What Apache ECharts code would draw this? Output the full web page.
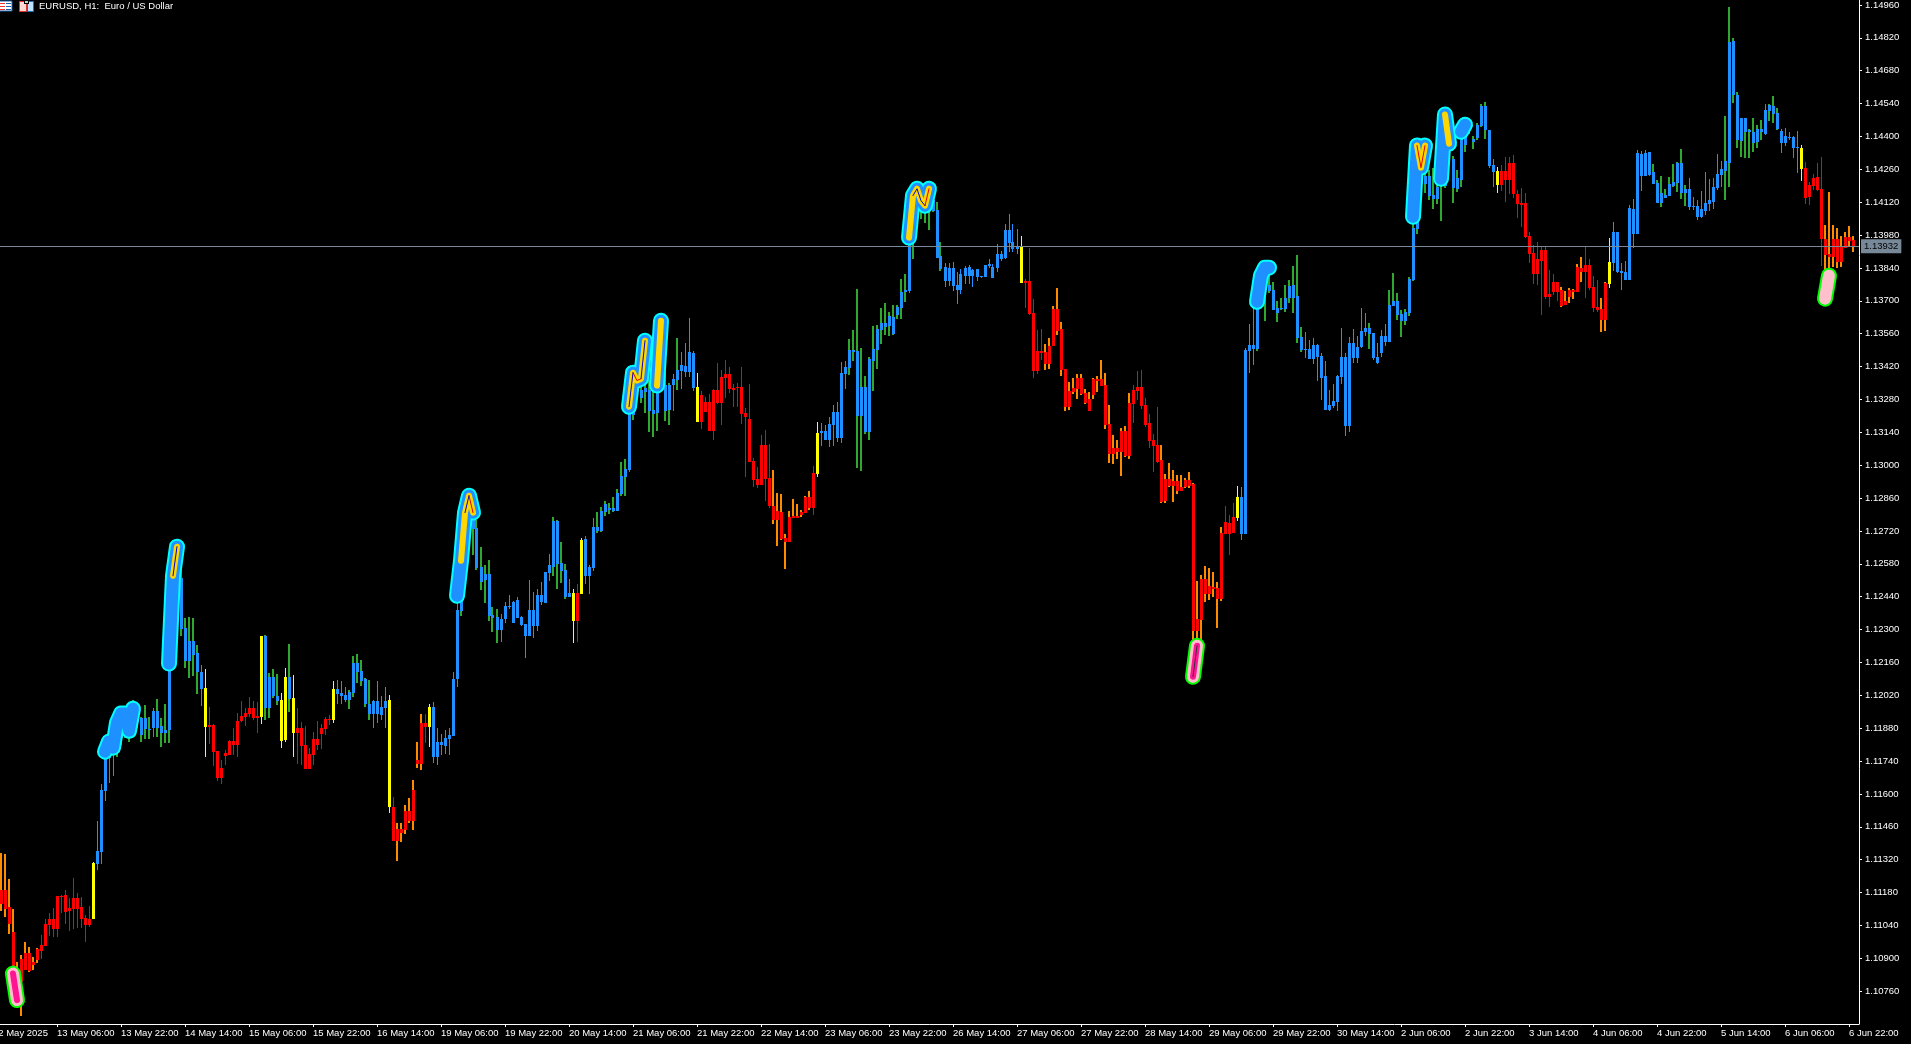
<!DOCTYPE html>
<html>
<head>
<meta charset="utf-8">
<style>html,body{margin:0;padding:0;background:#000;}#c{width:1911px;height:1044px;}</style>
<script src="https://cdn.jsdelivr.net/npm/echarts@6/dist/echarts.min.js"></script>
</head>
<body>
<div id="c"></div>
<script>
const chartTitle = 'EURUSD, H1:  Euro / US Dollar';
const lastPrice = 1.13932;
const priceTicks = [1.10760,1.10900,1.11040,1.11180,1.11320,1.11460,1.11600,1.11740,1.11880,1.12020,1.12160,1.12300,1.12440,1.12580,1.12720,1.12860,1.13000,1.13140,1.13280,1.13420,1.13560,1.13700,1.13840,1.13980,1.14120,1.14260,1.14400,1.14540,1.14680,1.14820,1.14960];
const timeLabels = ['12 May 2025','13 May 06:00','13 May 22:00','14 May 14:00','15 May 06:00','15 May 22:00','16 May 14:00','19 May 06:00','19 May 22:00','20 May 14:00','21 May 06:00','21 May 22:00','22 May 14:00','23 May 06:00','23 May 22:00','26 May 14:00','27 May 06:00','27 May 22:00','28 May 14:00','29 May 06:00','29 May 22:00','30 May 14:00','2 Jun 06:00','2 Jun 22:00','3 Jun 14:00','4 Jun 06:00','4 Jun 22:00','5 Jun 14:00','6 Jun 06:00','6 Jun 22:00'];
// Candle state per run: O red/orange wick, R red, Y yellow, B blue, G blue/green wick
const stateRuns = 'O10 R13 Y1 B5 G9 B1 G11 B1 Y1 R13 Y1 G4 Y2 G1 Y1 R9 Y1 B3 G6 B4 Y1 R1 O7 R1 Y1 B7 G10 B13 G4 B1 Y1 R1 Y1 B3 G8 B1 G10 B1 G1 B4 Y1 R18 O10 R1 Y1 B7 G15 B1 G8 B19 Y1 R5 O22 R7 O16 R3 Y1 B4 G12 B16 G1 B4 G25 B2 Y1 R15 O6 R4 O2 Y1 B10 G9 B9 G10 B1 G3 B5 Y1 R5 O8';
const highs = [
1.11346,1.11341,1.11235,1.11107,1.10881,1.10911,1.10967,1.10945,1.10903,1.10941,1.10996,1.11065,1.11090,1.11111,1.11163,1.11167,1.11188,1.11154,1.11239,1.11175,
1.11158,1.11082,1.11120,1.11307,1.11482,1.11639,1.11806,1.11827,1.11835,1.11891,1.11946,1.11963,1.11955,1.11997,1.11976,1.11925,1.11976,1.11925,1.11963,1.12001,
1.11920,1.11980,1.12295,1.12551,1.12678,1.12551,1.12346,1.12351,1.12346,1.12231,1.12146,1.12129,1.11967,1.11895,1.11780,1.11742,1.11784,1.11827,1.11878,1.11942,
1.11993,1.11963,1.12010,1.11993,1.11989,1.12270,1.12274,1.12112,1.12129,1.12108,1.12027,1.12133,1.12236,1.12104,1.11963,1.11903,1.11886,1.11793,1.11861,1.11908,
1.11895,1.11925,1.11933,1.12078,1.12082,1.12078,1.12052,1.12040,1.12184,1.12193,1.12167,1.12091,1.12082,1.11997,1.12078,1.12014,1.12052,1.12018,1.11584,1.11473,
1.11473,1.11550,1.11580,1.11656,1.11818,1.11938,1.11938,1.11980,1.11989,1.11878,1.11852,1.11869,1.11878,1.12116,1.12410,1.12615,1.12828,1.12891,1.12849,1.12764,
1.12649,1.12572,1.12593,1.12393,1.12385,1.12363,1.12414,1.12444,1.12419,1.12436,1.12355,1.12321,1.12508,1.12457,1.12470,1.12500,1.12542,1.12619,1.12776,1.12764,
1.12670,1.12576,1.12512,1.12470,1.12491,1.12687,1.12695,1.12572,1.12772,1.12798,1.12819,1.12845,1.12836,1.12862,1.12896,1.13011,1.13023,1.13253,1.13381,1.13402,
1.13402,1.13488,1.13360,1.13339,1.13381,1.13624,1.13394,1.13347,1.13385,1.13539,1.13479,1.13517,1.13624,1.13483,1.13390,1.13313,1.13287,1.13300,1.13321,1.13432,
1.13402,1.13445,1.13415,1.13343,1.13347,1.13415,1.13241,1.13343,1.13028,1.12989,1.13126,1.13147,1.13087,1.12977,1.12879,1.12874,1.12704,1.12802,1.12853,1.12832,
1.12806,1.12866,1.12887,1.12994,1.13181,1.13177,1.13168,1.13202,1.13253,1.13266,1.13436,1.13441,1.13534,1.13573,1.13747,1.13496,1.13377,1.13458,1.13590,1.13594,
1.13666,1.13688,1.13649,1.13679,1.13679,1.13790,1.13811,1.13999,1.14169,1.14177,1.14169,1.14169,1.14190,1.14169,1.14118,1.13947,1.13858,1.13858,1.13862,1.13820,
1.13832,1.13845,1.13850,1.13832,1.13832,1.13803,1.13850,1.13875,1.13854,1.13939,1.13909,1.14024,1.14067,1.14024,1.14003,1.13973,1.13790,1.13922,1.13705,1.13573,
1.13577,1.13513,1.13539,1.13675,1.13752,1.13607,1.13407,1.13351,1.13368,1.13385,1.13385,1.13321,1.13309,1.13368,1.13377,1.13445,1.13390,1.13253,1.13126,1.13104,
1.13155,1.13164,1.13304,1.13339,1.13398,1.13402,1.13283,1.13215,1.13130,1.13245,1.13083,1.12960,1.13006,1.12977,1.12955,1.12955,1.12942,1.12968,1.12921,1.12504,
1.12529,1.12568,1.12559,1.12542,1.12500,1.12734,1.12823,1.12785,1.12836,1.12908,1.12904,1.13496,1.13598,1.13679,1.13700,1.13807,1.13862,1.13828,1.13777,1.13696,
1.13709,1.13764,1.13786,1.13845,1.13892,1.13586,1.13564,1.13530,1.13539,1.13513,1.13475,1.13441,1.13317,1.13343,1.13381,1.13581,1.13475,1.13543,1.13577,1.13547,
1.13666,1.13645,1.13603,1.13560,1.13517,1.13573,1.13598,1.13743,1.13815,1.13730,1.13658,1.13662,1.13798,1.14062,1.14382,1.14382,1.14361,1.14254,1.14263,1.14211,
1.14339,1.14501,1.14467,1.14314,1.14254,1.14446,1.14476,1.14476,1.14399,1.14454,1.14535,1.14544,1.14424,1.14301,1.14267,1.14275,1.14309,1.14309,1.14318,1.14169,
1.14177,1.14156,1.13990,1.13935,1.13947,1.13926,1.13926,1.13828,1.13811,1.13777,1.13756,1.13739,1.13752,1.13747,1.13854,1.13884,1.13930,1.13875,1.13803,1.13786,
1.13709,1.13777,1.13964,1.14033,1.13990,1.13858,1.13867,1.14105,1.14131,1.14339,1.14335,1.14339,1.14331,1.14280,1.14211,1.14229,1.14173,1.14224,1.14280,1.14288,
1.14344,1.14190,1.14220,1.14139,1.14126,1.14165,1.14246,1.14216,1.14220,1.14322,1.14292,1.14484,1.14948,1.14816,1.14586,1.14476,1.14476,1.14429,1.14476,1.14446,
1.14467,1.14535,1.14535,1.14569,1.14518,1.14429,1.14433,1.14416,1.14399,1.14420,1.14361,1.14288,1.14203,1.14237,1.14284,1.14309,1.14020,1.14160,1.14020,1.14007,
1.13973,1.13990,1.14016,1.13973];
const bodyTops = [
1.11188,1.11188,1.11116,1.11009,1.10839,1.10894,1.10920,1.10920,1.10881,1.10937,1.10954,1.11043,1.11065,1.11065,1.11163,1.11163,1.11167,1.11111,1.11154,1.11154,
1.11116,1.11069,1.11065,1.11303,1.11354,1.11614,1.11776,1.11793,1.11806,1.11848,1.11920,1.11933,1.11903,1.11976,1.11955,1.11920,1.11920,1.11874,1.11950,1.11950,
1.11886,1.11869,1.12253,1.12529,1.12657,1.12517,1.12304,1.12248,1.12248,1.12197,1.12116,1.12048,1.11891,1.11891,1.11780,1.11708,1.11771,1.11823,1.11823,1.11908,
1.11929,1.11942,1.11963,1.11963,1.11929,1.12270,1.12270,1.12095,1.12095,1.12014,1.11997,1.12095,1.12095,1.12006,1.11878,1.11878,1.11806,1.11767,1.11831,1.11831,
1.11878,1.11916,1.11916,1.12044,1.12044,1.12027,1.12018,1.12031,1.12155,1.12155,1.12121,1.12087,1.11980,1.11993,1.11993,1.11967,1.11993,1.11997,1.11542,1.11448,
1.11448,1.11524,1.11524,1.11614,1.11742,1.11899,1.11899,1.11967,1.11967,1.11818,1.11818,1.11835,1.11848,1.12087,1.12380,1.12572,1.12806,1.12862,1.12828,1.12730,
1.12564,1.12534,1.12534,1.12359,1.12351,1.12342,1.12397,1.12397,1.12414,1.12423,1.12351,1.12321,1.12380,1.12380,1.12444,1.12444,1.12542,1.12572,1.12759,1.12759,
1.12581,1.12551,1.12453,1.12453,1.12453,1.12678,1.12683,1.12564,1.12734,1.12734,1.12802,1.12832,1.12815,1.12815,1.12879,1.12951,1.12981,1.13219,1.13360,1.13381,
1.13317,1.13326,1.13317,1.13232,1.13309,1.13594,1.13339,1.13339,1.13364,1.13402,1.13424,1.13419,1.13479,1.13475,1.13330,1.13296,1.13266,1.13266,1.13317,1.13317,
1.13373,1.13385,1.13385,1.13326,1.13330,1.13330,1.13219,1.13194,1.13015,1.12938,1.13083,1.13083,1.12942,1.12823,1.12802,1.12798,1.12687,1.12776,1.12781,1.12781,
1.12798,1.12862,1.12862,1.12964,1.13134,1.13143,1.13143,1.13172,1.13224,1.13224,1.13390,1.13415,1.13488,1.13488,1.13483,1.13330,1.13330,1.13449,1.13492,1.13577,
1.13603,1.13603,1.13632,1.13628,1.13671,1.13735,1.13743,1.13977,1.14126,1.14148,1.14126,1.14148,1.14156,1.14126,1.14084,1.13888,1.13841,1.13837,1.13837,1.13764,
1.13811,1.13837,1.13841,1.13828,1.13832,1.13803,1.13850,1.13854,1.13841,1.13896,1.13896,1.13999,1.13999,1.13947,1.13930,1.13930,1.13781,1.13781,1.13645,1.13483,
1.13483,1.13479,1.13505,1.13662,1.13662,1.13577,1.13407,1.13313,1.13326,1.13368,1.13368,1.13304,1.13279,1.13364,1.13364,1.13364,1.13339,1.13172,1.13070,1.13070,
1.13143,1.13143,1.13262,1.13317,1.13330,1.13330,1.13253,1.13177,1.13104,1.13083,1.13019,1.12938,1.12938,1.12930,1.12930,1.12904,1.12934,1.12934,1.12917,1.12342,
1.12512,1.12512,1.12483,1.12478,1.12474,1.12708,1.12755,1.12751,1.12776,1.12862,1.12862,1.13488,1.13509,1.13509,1.13679,1.13764,1.13807,1.13764,1.13743,1.13666,
1.13666,1.13709,1.13760,1.13764,1.13718,1.13543,1.13492,1.13492,1.13509,1.13509,1.13462,1.13377,1.13253,1.13270,1.13377,1.13458,1.13458,1.13517,1.13517,1.13500,
1.13568,1.13581,1.13581,1.13560,1.13458,1.13547,1.13547,1.13679,1.13696,1.13696,1.13641,1.13649,1.13790,1.14007,1.14339,1.14339,1.14229,1.14229,1.14148,1.14182,
1.14275,1.14446,1.14446,1.14301,1.14220,1.14395,1.14446,1.14454,1.14386,1.14446,1.14527,1.14527,1.14424,1.14275,1.14250,1.14250,1.14250,1.14284,1.14284,1.14152,
1.14114,1.14114,1.13973,1.13901,1.13875,1.13913,1.13913,1.13726,1.13777,1.13777,1.13743,1.13696,1.13743,1.13743,1.13841,1.13837,1.13850,1.13850,1.13756,1.13671,
1.13662,1.13773,1.13862,1.13990,1.13990,1.13824,1.13820,1.14092,1.14088,1.14326,1.14322,1.14326,1.14331,1.14246,1.14199,1.14156,1.14148,1.14194,1.14203,1.14284,
1.14284,1.14173,1.14173,1.14101,1.14101,1.14088,1.14114,1.14126,1.14182,1.14237,1.14258,1.14292,1.14799,1.14803,1.14573,1.14476,1.14476,1.14424,1.14416,1.14429,
1.14429,1.14510,1.14531,1.14527,1.14497,1.14420,1.14399,1.14395,1.14395,1.14352,1.14348,1.14263,1.14190,1.14220,1.14224,1.14173,1.13960,1.13896,1.13960,1.13960,
1.13926,1.13969,1.13969,1.13956];
const bodyBottoms = [
1.11128,1.11107,1.11043,1.10839,1.10720,1.10796,1.10847,1.10843,1.10869,1.10890,1.10928,1.10950,1.11039,1.11022,1.11022,1.11158,1.11094,1.11099,1.11107,1.11107,
1.11065,1.11039,1.11039,1.11065,1.11299,1.11350,1.11610,1.11750,1.11763,1.11793,1.11835,1.11891,1.11848,1.11903,1.11903,1.11848,1.11874,1.11869,1.11878,1.11878,
1.11857,1.11857,1.11869,1.12253,1.12517,1.12299,1.12163,1.12163,1.12189,1.12116,1.12044,1.11882,1.11882,1.11776,1.11665,1.11665,1.11759,1.11763,1.11806,1.11806,
1.11908,1.11925,1.11938,1.11920,1.11920,1.11925,1.11963,1.11963,1.12014,1.11993,1.11823,1.11827,1.12001,1.11857,1.11857,1.11801,1.11703,1.11703,1.11763,1.11806,
1.11852,1.11874,1.11912,1.11912,1.12023,1.12014,1.11997,1.11997,1.12027,1.12116,1.12078,1.11980,1.11938,1.11938,1.11938,1.11933,1.11963,1.11542,1.11397,1.11397,
1.11431,1.11444,1.11482,1.11482,1.11725,1.11725,1.11882,1.11882,1.11754,1.11754,1.11806,1.11801,1.11831,1.11844,1.12087,1.12376,1.12572,1.12742,1.12725,1.12559,
1.12500,1.12508,1.12355,1.12346,1.12295,1.12295,1.12342,1.12393,1.12325,1.12346,1.12316,1.12270,1.12270,1.12312,1.12312,1.12414,1.12410,1.12538,1.12564,1.12576,
1.12546,1.12436,1.12436,1.12333,1.12333,1.12448,1.12525,1.12525,1.12559,1.12717,1.12717,1.12798,1.12806,1.12802,1.12802,1.12874,1.12947,1.12977,1.13211,1.13360,
1.13283,1.13309,1.13228,1.13215,1.13219,1.13381,1.13228,1.13232,1.13339,1.13360,1.13398,1.13394,1.13394,1.13326,1.13181,1.13181,1.13224,1.13143,1.13143,1.13262,
1.13262,1.13368,1.13321,1.13317,1.13326,1.13215,1.13202,1.13011,1.12934,1.12913,1.12913,1.12938,1.12823,1.12764,1.12764,1.12683,1.12670,1.12670,1.12772,1.12772,
1.12785,1.12793,1.12815,1.12815,1.12960,1.13134,1.13104,1.13104,1.13168,1.13113,1.13113,1.13385,1.13411,1.13479,1.13206,1.13206,1.13138,1.13138,1.13441,1.13488,
1.13573,1.13586,1.13590,1.13556,1.13637,1.13666,1.13735,1.13739,1.13977,1.14105,1.14084,1.14092,1.14126,1.14079,1.13879,1.13832,1.13781,1.13781,1.13760,1.13743,
1.13743,1.13803,1.13803,1.13803,1.13798,1.13798,1.13798,1.13845,1.13794,1.13837,1.13875,1.13879,1.13943,1.13918,1.13918,1.13773,1.13773,1.13641,1.13398,1.13398,
1.13475,1.13428,1.13428,1.13505,1.13568,1.13402,1.13245,1.13245,1.13309,1.13321,1.13300,1.13262,1.13228,1.13296,1.13356,1.13334,1.13168,1.13045,1.13045,1.13053,
1.13053,1.13036,1.13036,1.13258,1.13313,1.13249,1.13168,1.13100,1.13079,1.13011,1.12840,1.12845,1.12908,1.12908,1.12887,1.12887,1.12904,1.12908,1.12291,1.12291,
1.12338,1.12448,1.12448,1.12470,1.12427,1.12427,1.12704,1.12704,1.12708,1.12772,1.12704,1.12704,1.13483,1.13492,1.13492,1.13700,1.13743,1.13739,1.13658,1.13645,
1.13662,1.13662,1.13709,1.13709,1.13539,1.13488,1.13488,1.13449,1.13449,1.13458,1.13368,1.13232,1.13232,1.13249,1.13266,1.13373,1.13164,1.13164,1.13453,1.13453,
1.13500,1.13564,1.13556,1.13453,1.13432,1.13475,1.13522,1.13522,1.13675,1.13637,1.13611,1.13611,1.13645,1.13786,1.14003,1.14233,1.14194,1.14143,1.14131,1.14131,
1.14211,1.14186,1.14339,1.14177,1.14173,1.14211,1.14361,1.14424,1.14373,1.14390,1.14441,1.14424,1.14271,1.14246,1.14190,1.14190,1.14211,1.14211,1.14152,1.14109,
1.14105,1.13969,1.13896,1.13811,1.13811,1.13867,1.13713,1.13713,1.13735,1.13735,1.13675,1.13679,1.13713,1.13735,1.13735,1.13820,1.13820,1.13752,1.13666,1.13658,
1.13615,1.13615,1.13769,1.13858,1.13820,1.13815,1.13786,1.13786,1.13982,1.13982,1.14229,1.14229,1.14233,1.14194,1.14114,1.14114,1.14135,1.14143,1.14186,1.14199,
1.14156,1.14156,1.14097,1.14097,1.14054,1.14054,1.14079,1.14109,1.14118,1.14177,1.14233,1.14250,1.14284,1.14573,1.14382,1.14378,1.14416,1.14416,1.14369,1.14373,
1.14416,1.14407,1.14505,1.14493,1.14429,1.14369,1.14369,1.14390,1.14348,1.14348,1.14258,1.14135,1.14139,1.14186,1.14169,1.13960,1.13892,1.13884,1.13884,1.13862,
1.13862,1.13922,1.13952,1.13926];
const lows = [
1.11099,1.11073,1.11001,1.10826,1.10707,1.10651,1.10847,1.10839,1.10847,1.10877,1.10894,1.10950,1.10992,1.10988,1.10988,1.11090,1.11043,1.11013,1.11022,1.11026,
1.11026,1.10967,1.11030,1.11065,1.11273,1.11299,1.11567,1.11644,1.11673,1.11754,1.11806,1.11835,1.11818,1.11848,1.11878,1.11818,1.11831,1.11831,1.11840,1.11840,
1.11797,1.11814,1.11814,1.12231,1.12487,1.12270,1.12133,1.12091,1.12099,1.12023,1.11972,1.11754,1.11810,1.11716,1.11652,1.11639,1.11720,1.11763,1.11763,1.11754,
1.11903,1.11886,1.11925,1.11912,1.11857,1.11895,1.11912,1.11920,1.12006,1.11976,1.11793,1.11818,1.11946,1.11754,1.11725,1.11720,1.11703,1.11703,1.11720,1.11784,
1.11788,1.11848,1.11891,1.11899,1.11980,1.11980,1.11989,1.11959,1.12010,1.12070,1.12057,1.11967,1.11912,1.11878,1.11899,1.11912,1.11878,1.11516,1.11397,1.11312,
1.11392,1.11427,1.11473,1.11444,1.11708,1.11699,1.11814,1.11797,1.11729,1.11720,1.11763,1.11767,1.11763,1.11844,1.12052,1.12355,1.12551,1.12730,1.12615,1.12551,
1.12466,1.12410,1.12333,1.12287,1.12240,1.12244,1.12325,1.12385,1.12325,1.12346,1.12312,1.12176,1.12270,1.12261,1.12291,1.12402,1.12410,1.12504,1.12525,1.12470,
1.12495,1.12427,1.12436,1.12240,1.12244,1.12448,1.12491,1.12448,1.12546,1.12708,1.12713,1.12781,1.12789,1.12798,1.12802,1.12866,1.12866,1.12968,1.13189,1.13351,
1.13262,1.13219,1.13138,1.13117,1.13143,1.13326,1.13185,1.13168,1.13228,1.13317,1.13321,1.13373,1.13373,1.13313,1.13181,1.13151,1.13224,1.13143,1.13104,1.13258,
1.13168,1.13283,1.13304,1.13245,1.13245,1.13172,1.12947,1.13011,1.12904,1.12900,1.12913,1.12845,1.12815,1.12747,1.12653,1.12678,1.12555,1.12670,1.12772,1.12772,
1.12776,1.12793,1.12806,1.12785,1.12947,1.13079,1.13104,1.13074,1.13079,1.13096,1.13092,1.13321,1.13381,1.13441,1.12985,1.12972,1.13130,1.13104,1.13313,1.13407,
1.13513,1.13551,1.13547,1.13551,1.13620,1.13620,1.13692,1.13730,1.13875,1.14092,1.14045,1.14028,1.13999,1.14075,1.13879,1.13824,1.13756,1.13760,1.13739,1.13683,
1.13726,1.13769,1.13769,1.13756,1.13781,1.13794,1.13798,1.13837,1.13794,1.13820,1.13867,1.13875,1.13905,1.13905,1.13896,1.13773,1.13666,1.13637,1.13368,1.13385,
1.13445,1.13402,1.13407,1.13505,1.13551,1.13377,1.13228,1.13232,1.13300,1.13279,1.13296,1.13258,1.13228,1.13279,1.13309,1.13334,1.13151,1.13006,1.13002,1.13023,
1.12951,1.13032,1.13023,1.13177,1.13275,1.13236,1.13160,1.13070,1.12968,1.13006,1.12836,1.12836,1.12904,1.12840,1.12874,1.12887,1.12900,1.12900,1.12253,1.12253,
1.12253,1.12414,1.12423,1.12436,1.12304,1.12419,1.12704,1.12615,1.12708,1.12759,1.12678,1.12704,1.13390,1.13424,1.13483,1.13679,1.13611,1.13730,1.13658,1.13607,
1.13658,1.13649,1.13688,1.13645,1.13517,1.13479,1.13453,1.13449,1.13428,1.13356,1.13275,1.13232,1.13228,1.13241,1.13228,1.13343,1.13121,1.13138,1.13432,1.13432,
1.13496,1.13547,1.13492,1.13445,1.13428,1.13458,1.13505,1.13522,1.13675,1.13615,1.13543,1.13594,1.13632,1.13781,1.13982,1.14220,1.14156,1.14126,1.14088,1.14109,
1.14037,1.14177,1.14305,1.14114,1.14160,1.14182,1.14331,1.14407,1.14344,1.14382,1.14437,1.14386,1.14263,1.14182,1.14156,1.14165,1.14118,1.14152,1.14135,1.14050,
1.14011,1.13964,1.13858,1.13769,1.13764,1.13637,1.13705,1.13671,1.13722,1.13696,1.13671,1.13679,1.13688,1.13705,1.13735,1.13777,1.13709,1.13743,1.13649,1.13649,
1.13564,1.13568,1.13752,1.13824,1.13815,1.13743,1.13786,1.13786,1.13922,1.13982,1.14165,1.14229,1.14229,1.14194,1.14114,1.14097,1.14135,1.14143,1.14182,1.14160,
1.14131,1.14101,1.14084,1.14084,1.14041,1.14050,1.14062,1.14079,1.14088,1.14169,1.14182,1.14126,1.14182,1.14539,1.14348,1.14309,1.14305,1.14305,1.14331,1.14348,
1.14382,1.14403,1.14463,1.14454,1.14424,1.14326,1.14356,1.14382,1.14305,1.14241,1.14207,1.14109,1.14105,1.14169,1.14165,1.13845,1.13828,1.13828,1.13841,1.13837,
1.13841,1.13922,1.13926,1.13905];
// Indicator swing strokes: [bar number, price]
const lowSwingA = [[3,1.10835],[4,1.10722]];
const lowSwingB = [[298,1.12099],[299,1.12231]];
const lowSwingC = [[456,1.13709],[457,1.13807]];
const highSwing1 = [[26,1.11780],[27,1.11823],[28,1.11797],[29,1.11903],[30,1.11942],[31,1.11942],[32,1.11869],[33,1.11963]];
const highSwing2 = [[42,1.12155],[43,1.12529],[44,1.12653]];
const highSwing3 = [[114,1.12444],[115,1.12593],[116,1.12798],[117,1.12870],[118,1.12798]];
const highSwing4 = [[157,1.13249],[158,1.13394],[159,1.13360],[160,1.13368],[161,1.13530]];
const highSwing5 = [[164,1.13339],[165,1.13615]];
const highSwing6 = [[227,1.13969],[228,1.14148],[229,1.14177],[230,1.14126],[231,1.14105],[232,1.14177]];
const highSwing7 = [[314,1.13696],[315,1.13807],[316,1.13841],[317,1.13841]];
const highSwing8 = [[353,1.14058],[354,1.14361],[355,1.14267],[356,1.14361]];
const highSwing9 = [[360,1.14220],[361,1.14493],[362,1.14369]];
const highSwing10 = [[365,1.14420],[366,1.14450]];

const PAD = 2;
const stateColors = {
  O:{body:'#FF0000',wick:'#FF8C00',w:2}, R:{body:'#FF0000',wick:'#FF0000',w:1},
  Y:{body:'#FFFF00',wick:'#FFFF00',w:1}, B:{body:'#1E90FF',wick:'#1E90FF',w:1},
  G:{body:'#1E90FF',wick:'#2EA82E',w:2}
};
const states = [];
stateRuns.split(' ').forEach(r => { for (let k = 0; k < +r.slice(1); k++) states.push(r[0]); });
const candles = highs.map((h, i) => [i + PAD, bodyBottoms[i], bodyTops[i], lows[i], h, states[i]]);
const categories = [];
for (let k = 0; k < 467; k++) categories.push(k % 16 === 0 ? (timeLabels[k / 16] || '') : '');

function stroke(data, width, color, z) {
  return { type:'line', data:data.map(p => [p[0] + PAD, p[1]]), showSymbol:false, silent:true, animation:false, z:z,
    lineStyle:{ width:width, color:color, cap:'round', join:'round', opacity:1 } };
}
function part(a, from, to) { return a.filter(p => p[0] >= from && p[0] <= to); }
const highAll = [highSwing1,highSwing2,highSwing3,highSwing4,highSwing5,highSwing6,highSwing7,highSwing8,highSwing9,highSwing10];
const lowAll = [lowSwingA,lowSwingB,lowSwingC];
const gold = [part(highSwing2,43,44),part(highSwing3,115,118),highSwing4,highSwing5,highSwing6,part(highSwing8,354,356),part(highSwing9,361,362)];
const thinBlue = [part(highSwing2,43,44),part(highSwing3,116,117),part(highSwing4,157,158),part(highSwing4,160,161),part(highSwing6,228,231)];
const thinRed = [part(highSwing3,117,118),part(highSwing4,158,160),part(highSwing6,231,232),part(highSwing8,354,356)];

const series = [
  { type:'line', name:'Bid', data:[], z:1, silent:true, animation:false,
    markLine:{ silent:true, symbol:'none', animation:false, precision:5,
      lineStyle:{ color:'#778899', width:1, type:'solid' },
      label:{ show:true, position:'end', formatter:lastPrice.toFixed(5), color:'#000', backgroundColor:'#778899',
        fontFamily:'Liberation Sans', fontSize:9.5, padding:[2,3,2,3], distance:2 },
      data:[{ yAxis:lastPrice }] } },
  { type:'custom', name:'EURUSD, H1', z:2, animation:false, silent:true, clip:true, data:candles,
    encode:{ x:0, y:[1,2,3,4] },
    renderItem:function(params, api){
      const x = api.value(0), st = stateColors[candles[params.dataIndex][5]];
      const cx = Math.floor(api.coord([x, api.value(2)])[0]);
      const top = Math.floor(api.coord([x, api.value(2)])[1]);
      const bot = Math.floor(api.coord([x, api.value(1)])[1]);
      const lo = Math.floor(api.coord([x, api.value(3)])[1]);
      const hi = Math.floor(api.coord([x, api.value(4)])[1]);
      return { type:'group', children:[
        { type:'rect', shape:{ x: st.w === 2 ? cx - 1 : cx, y:hi, width:st.w, height:Math.max(lo - hi, 1) }, style:{ fill:st.wick } },
        { type:'rect', shape:{ x:cx - 1, y:top, width:3, height:Math.max(bot - top, 1) }, style:{ fill:st.body } }
      ]};
    } }
];
highAll.forEach(d => series.push(stroke(d, 16, '#00FFFF', 5)));
highAll.forEach(d => series.push(stroke(d, 12, '#1E90FF', 6)));
gold.forEach(d => series.push(stroke(d, 6, '#FFD700', 7)));
thinBlue.forEach(d => series.push(stroke(d, 1, '#0000CD', 8)));
thinRed.forEach(d => series.push(stroke(d, 1, '#E00000', 8)));
lowAll.forEach(d => series.push(stroke(d, 16, '#00FF00', 5)));
lowAll.forEach(d => series.push(stroke(d, 12, '#FFC0CB', 6)));
series.push(stroke(lowSwingA, 6, '#FF1493', 7), stroke(lowSwingB, 6, '#FF1493', 7));
series.push(stroke(lowSwingB, 1, '#333333', 8));

const font = 'Liberation Sans';
const chart = echarts.init(document.getElementById('c'), null, { renderer:'canvas' });
chart.setOption({
  animation:false, backgroundColor:'#000',
  title:{ text:chartTitle, left:39, top:1, padding:0, textStyle:{ color:'#fff', fontSize:9.5, fontWeight:'normal', fontFamily:font } },
  grid:{ left:-9, right:52, top:0, bottom:20, show:false, containLabel:false, outerBoundsMode:'none' },
  xAxis:{ type:'category', data:categories, boundaryGap:true,
    axisLine:{ show:true, lineStyle:{ color:'#fff', width:1 } },
    axisTick:{ show:true, alignWithLabel:true, length:3, lineStyle:{ color:'#fff' }, interval:(i) => i % 16 === 0 },
    axisLabel:{ show:true, color:'#fff', fontFamily:font, fontSize:9.5, align:'left', margin:4, hideOverlap:false, interval:(i) => i % 16 === 0 },
    splitLine:{ show:false } },
  yAxis:{ type:'value', position:'right', min:1.1062026, max:1.14980855, scale:true,
    axisLine:{ show:true, onZero:false, lineStyle:{ color:'#fff', width:1 } },
    axisTick:{ show:true, length:3, lineStyle:{ color:'#fff' }, customValues:priceTicks },
    axisLabel:{ show:true, color:'#fff', fontFamily:font, fontSize:9.5, margin:6, customValues:priceTicks, formatter:v => v.toFixed(5) },
    splitLine:{ show:false } },
  graphic:[
    { type:'rect', z:20, shape:{ x:-1, y:1, width:13, height:10 }, style:{ fill:'#fff', stroke:'#1a5fa8', lineWidth:1 } },
    { type:'rect', z:21, shape:{ x:0, y:3, width:5, height:1 }, style:{ fill:'#e33' } },
    { type:'rect', z:21, shape:{ x:0, y:6, width:5, height:1 }, style:{ fill:'#e33' } },
    { type:'rect', z:21, shape:{ x:0, y:9, width:5, height:1 }, style:{ fill:'#e33' } },
    { type:'rect', z:21, shape:{ x:6, y:3, width:5, height:1 }, style:{ fill:'#1a5fa8' } },
    { type:'rect', z:21, shape:{ x:6, y:6, width:5, height:1 }, style:{ fill:'#1a5fa8' } },
    { type:'rect', z:21, shape:{ x:6, y:9, width:5, height:1 }, style:{ fill:'#1a5fa8' } },
    { type:'rect', z:20, shape:{ x:19.5, y:1.5, width:7, height:10 }, style:{ fill:'#ffd9d0', stroke:'#d33', lineWidth:1 } },
    { type:'rect', z:20, shape:{ x:27.5, y:1.5, width:6, height:10 }, style:{ fill:'#bfe3ff', stroke:'#1a6fb8', lineWidth:1 } },
    { type:'rect', z:21, shape:{ x:24, y:0, width:5, height:4 }, style:{ fill:'#000' } },
    { type:'rect', z:22, shape:{ x:25, y:1, width:3, height:2 }, style:{ fill:'#ccc' } }
  ],
  series:series
});
</script>
</body>
</html>
